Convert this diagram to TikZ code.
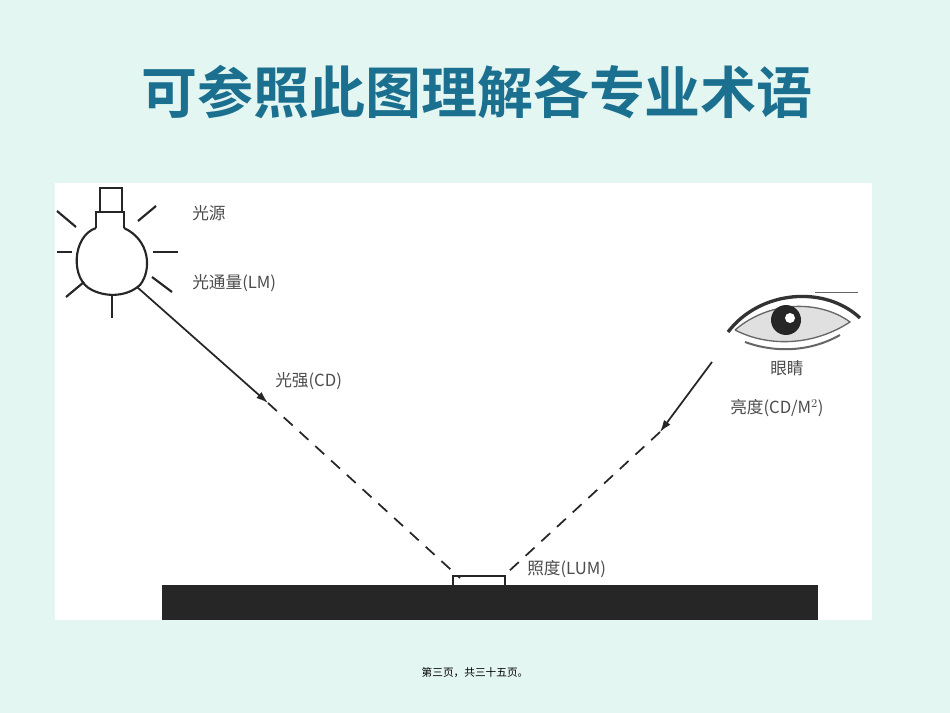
\documentclass[tikz,border=0pt]{standalone}
\usepackage{fontspec}
\usetikzlibrary{arrows.meta}
\newfontfamily\cjk{Noto Sans CJK SC}
\newfontfamily\cjkb{Noto Sans CJK SC Bold}
\definecolor{bgc}{HTML}{E4F6F1}
\definecolor{titc}{HTML}{1B6F8F}
\begin{document}
\begin{tikzpicture}[x=0.75pt,y=-0.75pt,
  lbl/.style={font=\cjk\fontsize{12.5}{12.5}\selectfont,text=black!70,inner sep=0pt},
  ray/.style={line width=1.6pt,black!85},
  beam/.style={line width=1.3pt,black!85}]
\fill[bgc] (0,0) rectangle (950,713);
\useasboundingbox (0,0) rectangle (950,713);
\fill[white] (55,183) rectangle (872,620);
\node[font=\cjkb\fontsize{42}{42}\selectfont,text=titc] (title) at (477,92) {可参照此图理解各专业术语};
% bulb
\draw[ray] (96,228) -- (96,212) -- (124,212) -- (124,228);
\draw[ray] (100,212) -- (100,188) -- (122,188) -- (122,212);
\draw[ray] (96,228) .. controls (72,236) and (70,280) .. (92,290) .. controls (108,298) and (128,296) .. (140,285)
  .. controls (152,270) and (150,240) .. (124,228);
\coordinate (src) at (137,287);
\draw[ray] (57,211) -- (76,227);
\draw[ray] (57,252) -- (72,252);
\draw[ray] (66,297) -- (84,282);
\draw[ray] (112,295) -- (112,318);
\draw[ray] (152,277) -- (172,292);
\draw[ray] (153,252) -- (178,252);
\draw[ray] (138,221) -- (156,206);
% eye
\begin{scope}
\draw[line width=2.5pt,black!80] (728,332) .. controls (760,290) and (825,285) .. (860,318);
\draw[line width=1pt,black!60,fill=black!12] (735,330) .. controls (770,300) and (820,300) .. (850,322) .. controls (815,345) and (770,348) .. (735,330);
\fill[black!85] (786,320) circle (15);
\fill[white] (790,318) circle (5);
\draw[line width=1.5pt,black!60] (745,342) .. controls (775,353) and (810,352) .. (840,335);
\draw[black!60] (815,292) -- (858,292);
\end{scope}
% surface
\fill[black!85] (162,585) rectangle (818,620);
\draw[line width=1.3pt,black!85] (453,585) -- (453,576) -- (505,576) -- (505,585);
\coordinate (hit1) at (460,578);
\coordinate (hit2) at (508,572);
\coordinate (a1) at (268,403);
\coordinate (eyep) at (712,362);
\coordinate (a2) at (660,432);
\draw[beam,-{Latex[length=9pt,width=6pt]}] (src) -- (a1);
\draw[beam,dashed,dash pattern=on 9pt off 7pt] (a1) -- (hit1);
\draw[beam,-{Latex[length=9pt,width=6pt]}] (eyep) -- (a2);
\draw[beam,dashed,dash pattern=on 9pt off 7pt] (a2) -- (hit2);
% labels
\node[lbl,anchor=west] (l1) at (192,213) {光源};
\node[lbl,anchor=west] (l2) at (192,283) {光通量(LM)};
\node[lbl,anchor=west] (l3) at (275,381) {光强(CD)};
\node[lbl,anchor=west] (l4) at (770,368) {眼睛};
\node[lbl,anchor=west] (l5) at (730,408) {亮度(CD/M$^2$)};
\node[lbl,anchor=west] (l6) at (527,569) {照度(LUM)};
\node[font=\cjk\fontsize{8}{8}\selectfont] (foot) at (475,673) {第三页，共三十五页。};
\end{tikzpicture}
\end{document}
